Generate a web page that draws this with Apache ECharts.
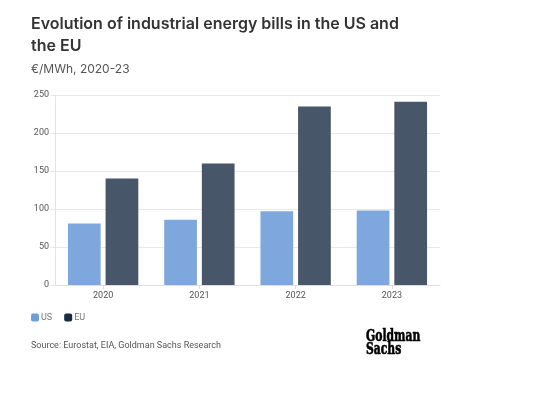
<!DOCTYPE html>
<html>
<head>
<meta charset="utf-8">
<script src="https://cdn.jsdelivr.net/npm/echarts@6/dist/echarts.min.js"></script>
<style>html,body{margin:0;padding:0;background:#fff}#c{width:560px;height:396px}</style>
</head>
<body>
<div id="c"></div>
<script>
const categories = ['2020', '2021', '2022', '2023'];
const usValues = [81, 86, 97, 98];
const euValues = [140, 160, 235, 241];
const yTicks = [0, 50, 100, 150, 200, 250];

const chart = echarts.init(document.getElementById('c'), null, {renderer: 'canvas'});
const font = 'Inter, "Noto Sans", sans-serif';
const small = 'Roboto, "Noto Sans", sans-serif';
chart.setOption({
  animation: false,
  title: [
    {text: 'Evolution of industrial energy bills in the US and\nthe EU', left: 31, top: 13, padding: 0,
     textStyle: {fontFamily: font, fontSize: 16, fontWeight: 600, color: '#333', lineHeight: 22}},
    {text: '€/MWh, 2020-23', left: 31, top: 63, padding: 0,
     textStyle: {fontFamily: font, fontSize: 12, fontWeight: 400, color: '#555'}}
  ],
  legend: {
    left: 31, top: 313, padding: 0, itemWidth: 8, itemHeight: 8, itemGap: 12,
    icon: 'roundRect', textStyle: {fontFamily: small, fontSize: 9, color: '#777', padding: [0,0,0,-3]},
    data: [{name: 'US', itemStyle: {color: '#6b9edb', opacity: 1}},
           {name: 'EU', itemStyle: {color: '#1c2b45', opacity: 1}}]
  },
  grid: {left: 55, right: 120, top: 95, bottom: 111},
  xAxis: {
    type: 'category', data: categories,
    axisLine: {lineStyle: {color: '#ddd'}},
    axisTick: {show: true, alignWithLabel: true, length: 4, lineStyle: {color: '#ddd'}},
    axisLabel: {fontFamily: small, fontSize: 9, color: '#555', margin: 6}
  },
  yAxis: {
    type: 'value', min: 0, max: 250, interval: 50,
    axisLine: {show: true, lineStyle: {color: '#e3e3e3'}},
    axisTick: {show: true, length: 4, lineStyle: {color: '#e3e3e3'}},
    splitLine: {lineStyle: {color: '#e8e8e8'}},
    axisLabel: {fontFamily: small, fontSize: 9, color: '#555', margin: 6,
      formatter: v => yTicks.includes(v) ? String(v) : ''}
  },
  series: [
    {name: 'US', type: 'bar', data: usValues, barWidth: '34%', barGap: '15%',
     itemStyle: {color: '#7ea8dd'}},
    {name: 'EU', type: 'bar', data: euValues, barWidth: '34%', barGap: '15%',
     itemStyle: {color: '#475669'}}
  ],
  graphic: [
    {type: 'text', left: 31, top: 341,
     style: {text: 'Source: Eurostat, EIA, Goldman Sachs Research', fontFamily: small, fontSize: 9, fill: '#555'}},
    {type: 'text', x: 366, y: 330, scaleX: 0.75,
     style: {text: 'Goldman\nSachs', fontFamily: '"DejaVu Serif Condensed", "DejaVu Serif", serif', fontWeight: 'bold',
       fontSize: 16, lineHeight: 13, fill: '#000', stroke: '#000', lineWidth: 0.6, verticalAlign: 'top'}}
  ]
});
</script>
</body>
</html>
